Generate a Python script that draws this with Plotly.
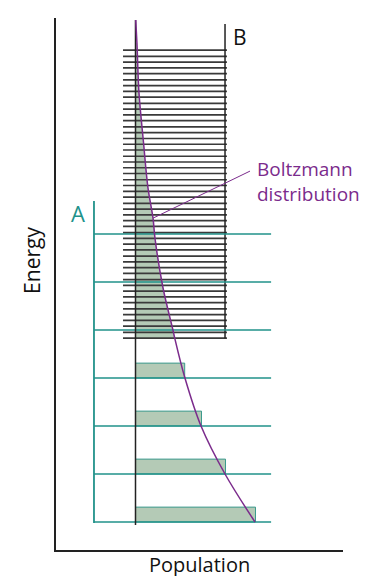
import plotly.graph_objects as go

# ---------------- data (arbitrary units: population in % of ground level, energy in level spacings)
A_LEVELS = [0, 1, 2, 3, 4, 5, 6]
BAR_LEVELS = [0, 1, 2, 3]
BAR_POPULATION = [100, 75, 55, 41]

B_LEVELS = [3.83, 3.95, 4.08, 4.20, 4.32, 4.44, 4.57, 4.69, 4.81, 4.93,
            5.05, 5.18, 5.30, 5.42, 5.54, 5.67, 5.79, 5.91, 6.03, 6.16,
            6.28, 6.40, 6.52, 6.64, 6.77, 6.89, 7.01, 7.13, 7.26, 7.38,
            7.50, 7.62, 7.75, 7.87, 7.99, 8.11, 8.23, 8.36, 8.48, 8.60,
            8.72, 8.85, 8.97, 9.09, 9.21, 9.34, 9.46, 9.58, 9.70, 9.83]

CURVE_ENERGY = [0.0, 1.0, 2.0, 3.0, 3.83, 4.0, 4.88, 5.92, 6.33, 6.96, 7.90, 8.94, 9.98, 10.46]
CURVE_POP = [99.6, 74.6, 54.6, 41.2, 32.7, 31.2, 22.9, 16.2, 14.6, 10.4, 6.7, 2.9, 1.2, 0.2]

# ---------------- geometry / style
A_X = (-34.6, 113.0)          # extent of A level lines
B_X = (-10.4, 76.2)           # extent of B level lines
B_RIGHT = 74.6
B_TOP = 10.375
ZERO_TOP = 10.46
ZERO_BOTTOM = -0.06
A_VERT = (-0.02, 6.69)
BAR_H = 0.31

TEAL = "#21928a"
GREEN = "#b4cab6"
PURPLE = "#7b2b8c"
DARK = "#222222"
FONT = "Open Sans"

X_RANGE = [-66.25, 172.92]
Y_RANGE = [-0.5833, 10.5]

fig = go.Figure()

# bars (populations of A levels)
fig.add_trace(go.Bar(
    orientation="h", x=BAR_POPULATION, y=BAR_LEVELS, base=0,
    width=BAR_H, offset=0,
    marker=dict(color=GREEN, line=dict(color="#3c9a8d", width=1)),
    hoverinfo="skip", showlegend=False))

# shaded population of B quasi-continuum
bx, by = [], []
for p, e in zip(CURVE_POP, CURVE_ENERGY):
    if B_LEVELS[0] - 1e-6 <= e <= B_TOP:
        bx.append(p)
        by.append(e)
fig.add_trace(go.Scatter(
    x=bx, y=by, mode="lines", fill="tozerox", fillcolor=GREEN,
    line=dict(width=0, shape="spline"), hoverinfo="skip", showlegend=False))

# B levels
lx, ly = [], []
for e in B_LEVELS:
    lx += [B_X[0], B_X[1], None]
    ly += [e, e, None]
fig.add_trace(go.Scatter(x=lx, y=ly, mode="lines",
                         line=dict(color="#3a3a3a", width=1.7),
                         hoverinfo="skip", showlegend=False))
# B right bracket
fig.add_trace(go.Scatter(x=[B_RIGHT, B_RIGHT], y=[B_LEVELS[0], B_TOP], mode="lines",
                         line=dict(color=DARK, width=1.5), hoverinfo="skip", showlegend=False))

# A levels
ax_, ay_ = [], []
for e in A_LEVELS:
    ax_ += [A_X[0], A_X[1], None]
    ay_ += [e, e, None]
fig.add_trace(go.Scatter(x=ax_, y=ay_, mode="lines",
                         line=dict(color=TEAL, width=1.6),
                         hoverinfo="skip", showlegend=False))
fig.add_trace(go.Scatter(x=[A_X[0], A_X[0]], y=list(A_VERT), mode="lines",
                         line=dict(color=TEAL, width=1.8), hoverinfo="skip", showlegend=False))

# zero-population line
fig.add_trace(go.Scatter(x=[0, 0], y=[ZERO_BOTTOM, ZERO_TOP], mode="lines",
                         line=dict(color=DARK, width=1.5), hoverinfo="skip", showlegend=False))

# Boltzmann curve
fig.add_trace(go.Scatter(x=CURVE_POP, y=CURVE_ENERGY, mode="lines",
                         line=dict(color=PURPLE, width=1.5, shape="spline"),
                         hoverinfo="skip", showlegend=False))
# pointer
fig.add_trace(go.Scatter(x=[14.6, 95.4], y=[6.33, 7.31], mode="lines",
                         line=dict(color=PURPLE, width=1), hoverinfo="skip", showlegend=False))

ann = [
    dict(text="A", x=-47.9, y=6.44, font=dict(color=TEAL, size=22)),
    dict(text="B", x=87.1, y=10.10, font=dict(color="#111111", size=21)),
    dict(text="Boltzmann<br>distribution", x=99.6, y=7.10, xanchor="left", align="left",
         font=dict(color=PURPLE, size=19)),
    dict(text="Energy", xref="paper", x=0, xshift=-24, y=5.44, textangle=-90,
         font=dict(color="#111111", size=21)),
    dict(text="Population", xref="paper", x=0.5, yref="paper", y=0, yshift=-14,
         yanchor="middle", font=dict(color="#111111", size=20)),
]
for a in ann:
    a.setdefault("showarrow", False)
    a.setdefault("xanchor", "center")
    a.setdefault("yanchor", "middle")
    fig.add_annotation(**a)

fig.update_layout(
    width=369, height=576,
    margin=dict(l=48, r=34, t=10, b=34, pad=0),
    paper_bgcolor="white", plot_bgcolor="white",
    font=dict(family=FONT),
    showlegend=False,
    xaxis=dict(range=X_RANGE, showgrid=False, zeroline=False, showticklabels=False,
               ticks="", showline=True, linecolor=DARK, linewidth=1.5, fixedrange=True),
    yaxis=dict(range=Y_RANGE, showgrid=False, zeroline=False, showticklabels=False,
               ticks="", showline=True, linecolor=DARK, linewidth=1.5, fixedrange=True),
)

fig.write_html("out.html")
